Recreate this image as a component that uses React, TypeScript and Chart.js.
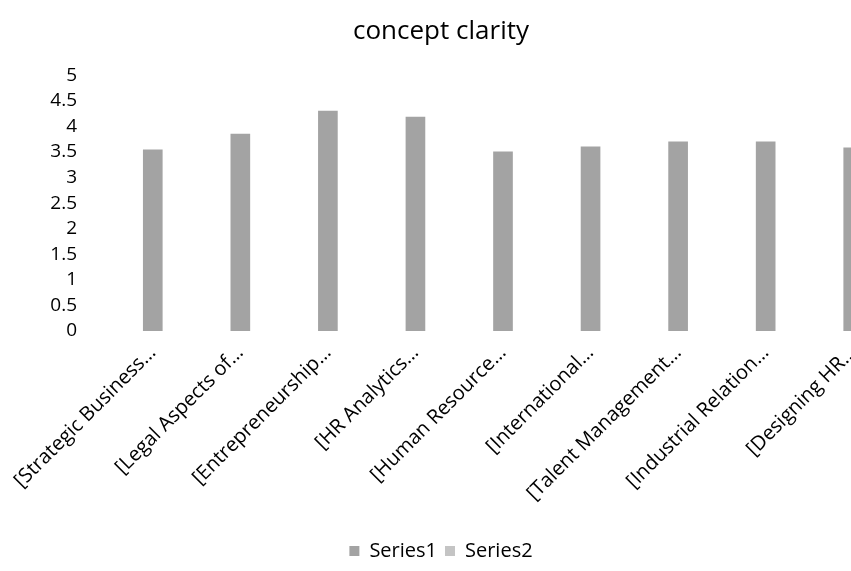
import React, { useEffect, useRef } from "react";
import { Chart, registerables } from "chart.js";

Chart.register(...registerables);

const categories = [
  "[Strategic Business…",
  "[Legal Aspects of…",
  "[Entrepreneurship…",
  "[HR Analytics…",
  "[Human Resource…",
  "[International…",
  "[Talent Management…",
  "[Industrial Relation…",
  "[Designing HR…",
];
const series1 = [3.54, 3.85, 4.3, 4.18, 3.5, 3.6, 3.7, 3.7, 3.58];
const series2: (number | null)[] = [];
const yMin = 0;
const yMax = 5;
const yStep = 0.5;
const titleText = "concept clarity";

const FONT = "'Open Sans', sans-serif";

export default function App() {
  const ref = useRef<HTMLCanvasElement | null>(null);
  useEffect(() => {
    if (!ref.current) return;
    const chart = new Chart(ref.current, {
      type: "bar",
      data: {
        labels: categories,
        datasets: [
          {
            label: "Series1",
            data: series1,
            backgroundColor: "#a3a3a3",
            borderWidth: 0,
            barThickness: 19,
            grouped: false,
          },
          {
            label: "Series2",
            data: series2,
            backgroundColor: "#c4c4c4",
            borderWidth: 0,
            barThickness: 19,
            grouped: false,
          },
        ],
      },
      options: {
        responsive: false,
        animation: false,
        devicePixelRatio: 1,
        layout: { padding: { left: 0, right: 0, top: 0, bottom: 0 } },
        plugins: {
          title: {
            display: true,
            text: titleText,
            color: "#000",
            font: { family: FONT, size: 26, weight: "normal" },
            padding: { top: 16, bottom: 28 },
          },
          legend: {
            display: true,
            position: "bottom",
            labels: {
              color: "#000",
              font: { family: FONT, size: 20 },
              boxWidth: 10,
              boxHeight: 10,
              padding: 8,
            },
          },
          tooltip: { enabled: false },
        },
        scales: {
          x: {
            grid: { display: false, drawTicks: false },
            border: { display: false },
            ticks: {
              autoSkip: false,
              maxRotation: 45,
              minRotation: 45,
              color: "#000",
              padding: 10,
              font: { family: FONT, size: 20 },
            },
            afterFit: (scale: any) => {
              scale.height = 202;
            },
          },
          y: {
            min: yMin,
            max: yMax,
            grid: { display: false, drawTicks: false },
            border: { display: false },
            ticks: {
              autoSkip: false,
              stepSize: yStep,
              color: "#000",
              padding: 32,
              font: { family: FONT, size: 19 },
              callback: (v: any) => String(Number(v)),
            },
            afterFit: (scale: any) => {
              scale.width = 124;
            },
          },
        },
      },
    });
    return () => chart.destroy();
  }, []);
  return (
    <div
      style={{
        position: "fixed",
        left: 0,
        top: 0,
        width: 851,
        height: 571,
        overflow: "hidden",
        background: "#fff",
      }}
    >
      <canvas
        ref={ref}
        width={912}
        height={571}
        style={{ position: "absolute", left: -15, top: 0, width: 912, height: 571 }}
      />
    </div>
  );
}
